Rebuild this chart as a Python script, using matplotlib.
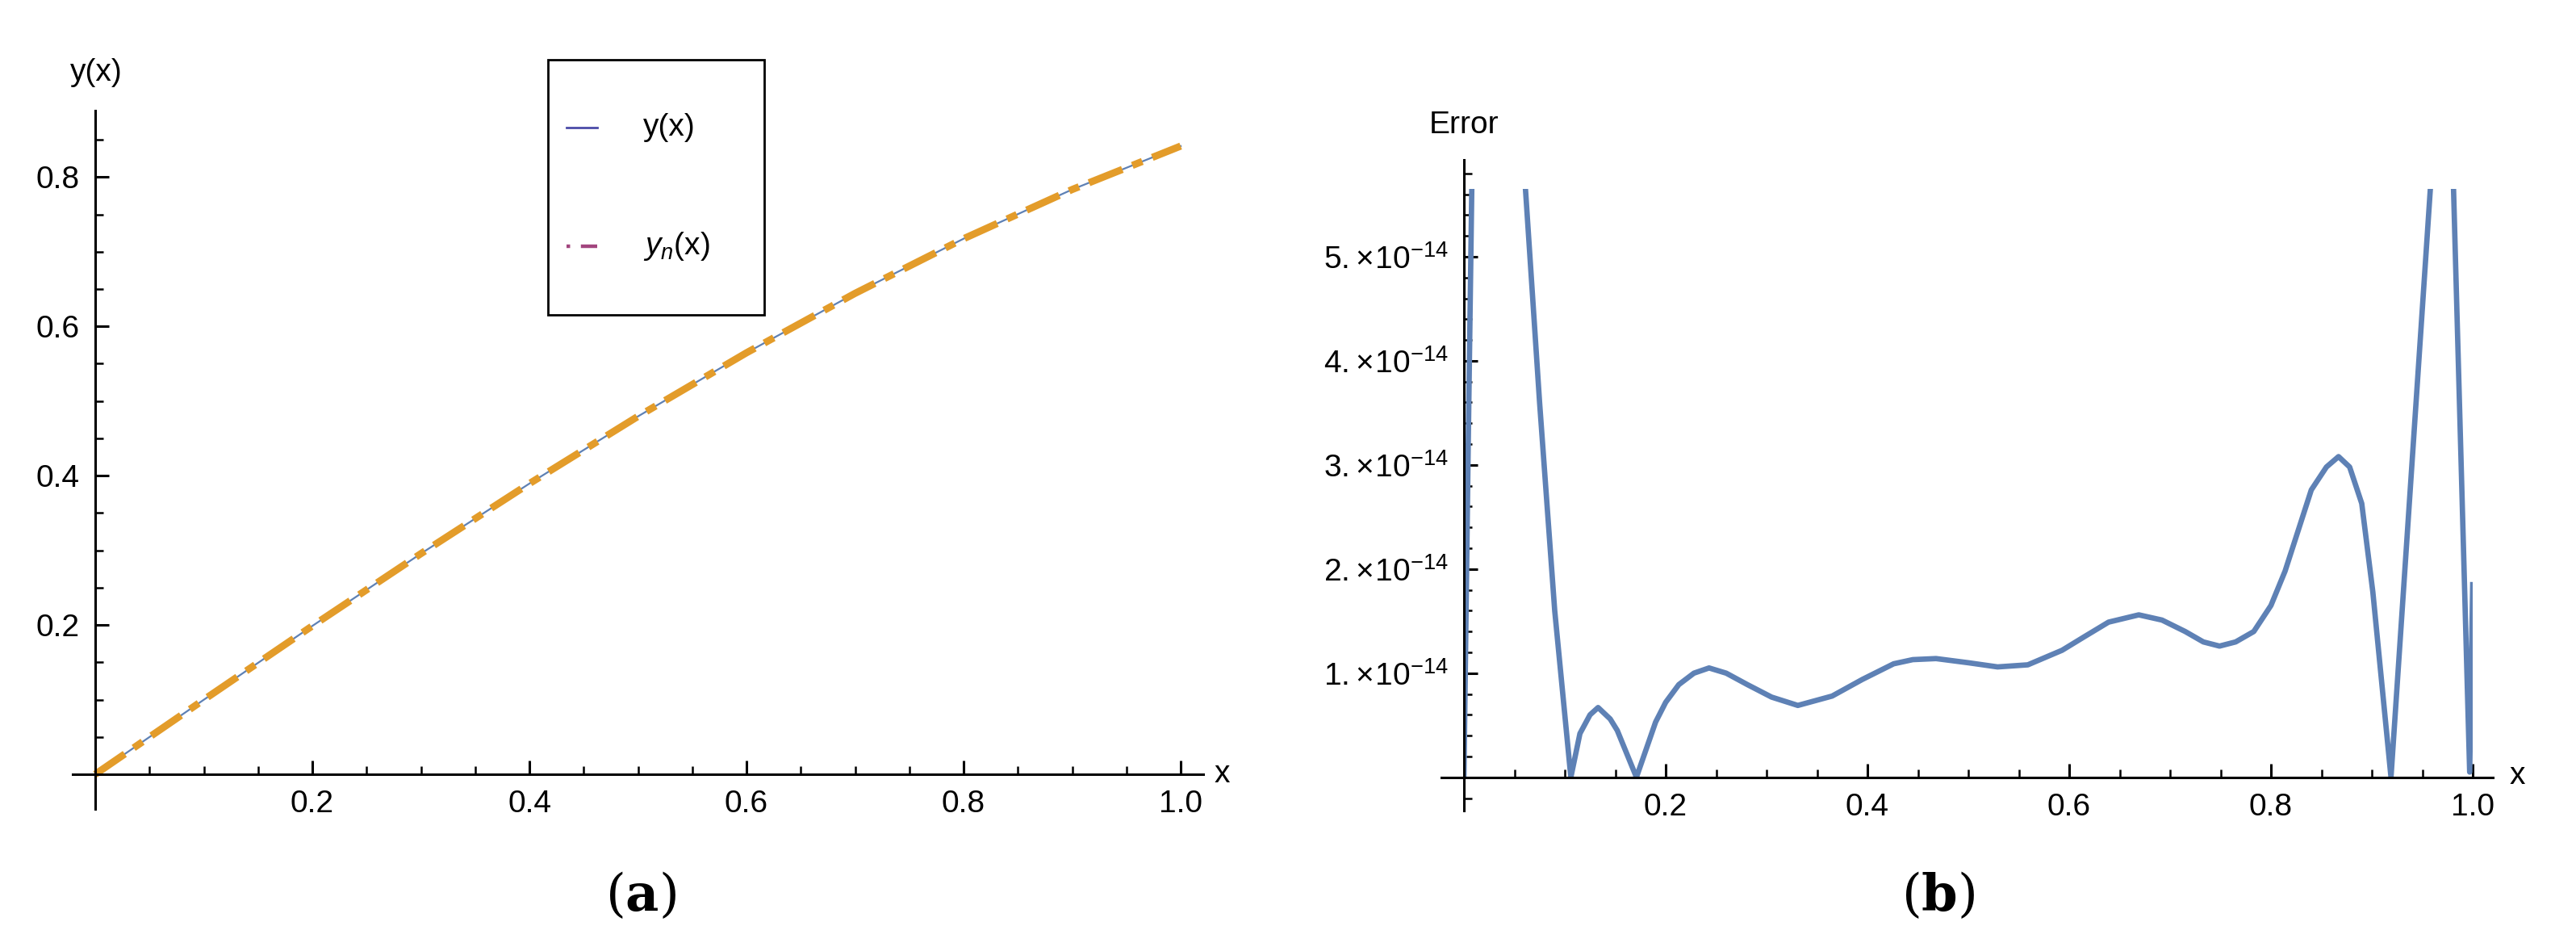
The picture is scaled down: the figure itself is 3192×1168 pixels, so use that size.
import numpy as np
import matplotlib
matplotlib.use("Agg")
import matplotlib.pyplot as plt
from matplotlib.lines import Line2D
from matplotlib.patches import Rectangle
from matplotlib.ticker import MultipleLocator

plt.rcParams['font.family'] = ['Liberation Sans', 'DejaVu Sans']
plt.rcParams['mathtext.fontset'] = 'custom'
plt.rcParams['mathtext.rm'] = 'Liberation Sans'
plt.rcParams['mathtext.it'] = 'Liberation Sans:italic'

# panel (a): exact and approximate solution
x_sol = [0.0, 0.1, 0.2, 0.3, 0.4, 0.5, 0.6, 0.7, 0.8, 0.9, 1.0]
y_exact = [0.0, 0.0998, 0.1987, 0.2955, 0.3894, 0.4794, 0.5646, 0.6442, 0.7174, 0.7833, 0.8415]
y_approx = y_exact

# panel (b): absolute error (units of 1e-14)
x_err = [0.0, 0.004, 0.009, 0.055, 0.061, 0.075, 0.09, 0.106, 0.115, 0.125, 0.133,
         0.145, 0.152, 0.171, 0.19, 0.2, 0.213, 0.228, 0.243, 0.26, 0.281, 0.305, 0.331,
         0.365, 0.395, 0.426, 0.445, 0.468, 0.5, 0.529, 0.559, 0.593, 0.615, 0.639,
         0.669, 0.692, 0.715, 0.733, 0.749, 0.765, 0.783, 0.8, 0.814, 0.828, 0.840,
         0.855, 0.867, 0.878, 0.890, 0.901, 0.919, 0.958, 0.962, 0.979, 0.981, 0.997, 1.0]
err = [0.0, 3.0, 6.5, 7.5, 5.65, 3.6, 1.6, 0.0, 0.42, 0.6, 0.67,
       0.56, 0.45, 0.0, 0.53, 0.72, 0.89, 1.0, 1.05, 1.0, 0.89, 0.77, 0.69,
       0.78, 0.94, 1.09, 1.13, 1.14, 1.1, 1.06, 1.08, 1.22, 1.35, 1.49,
       1.56, 1.51, 1.40, 1.3, 1.26, 1.3, 1.40, 1.65, 1.98, 2.4, 2.76,
       2.98, 3.08, 2.98, 2.63, 1.78, 0.0, 5.65, 6.5, 6.5, 5.65, 0.05, 1.85]

W, H = 3192, 1168
fig = plt.figure(figsize=(W / 200, H / 200), dpi=200)


def style_axes(ax):
    for s in ['top', 'right']:
        ax.spines[s].set_visible(False)
    ax.spines['bottom'].set_position(('data', 0))
    ax.spines['left'].set_position(('data', 0))
    for s in ['bottom', 'left']:
        ax.spines[s].set_linewidth(1.1)
    ax.tick_params(which='major', direction='in', length=6, width=1.1, labelsize=14, pad=7)
    ax.tick_params(which='minor', direction='in', length=3.6, width=0.9)


# ---- (a)
ax1 = fig.add_axes([90 / W, 1 - 1002 / H, (1491 - 90) / W, (1002 - 137) / H])
ax1.plot(x_sol, y_exact, color='#5E81B5', lw=0.8)
ax1.plot(x_sol, y_approx, color='#E39C2A', lw=3.2, ls=(0, (5, 1.5, 1.5, 1.5)))
ax1.set_xlim(-28 / 1345, 1.0208)
ax1.set_ylim(-0.0465, 0.889)
style_axes(ax1)
ax1.set_xticks([0.2, 0.4, 0.6, 0.8, 1.0])
ax1.set_yticks([0.2, 0.4, 0.6, 0.8])
ax1.xaxis.set_minor_locator(MultipleLocator(0.05))
ax1.yaxis.set_minor_locator(MultipleLocator(0.05))
ax1.set_xticklabels(['0.2', '0.4', '0.6', '0.8', '1.0'])
ax1.set_yticklabels(['0.2', '0.4', '0.6', '0.8'])
fig.text(87 / W, 1 - 90 / H, 'y(x)', fontsize=14, va='center')
fig.text(1505 / W, 1 - 959 / H, 'x', fontsize=14, va='center')

# legend box drawn by hand
fig.patches.append(Rectangle((679 / W, 1 - 390 / H), (947 - 679) / W, (390 - 74) / H,
                             transform=fig.transFigure, fill=False, ec='black', lw=1.0))
fig.lines.append(Line2D([702 / W, 740 / W], [1 - 158 / H] * 2, transform=fig.transFigure,
                        color='#4B4BA8', lw=1.0))
fig.lines.append(Line2D([702 / W, 740 / W], [1 - 305 / H] * 2, transform=fig.transFigure,
                        color='#A2457E', lw=1.6, ls=(0, (1, 3, 5, 3))))
fig.text(797 / W, 1 - 158 / H, 'y(x)', fontsize=14, va='center')
fig.text(797 / W, 1 - 305 / H, r'$\mathit{y_n}$(x)', fontsize=14, va='center')

# ---- (b)
ax2 = fig.add_axes([1786 / W, 1 - 1004 / H, (3089 - 1786) / W, (1004 - 198) / H])
clip = Rectangle((0, 0), 1.0, 5.65e-14, transform=ax2.transData, visible=False)
ax2.add_patch(clip)
ln, = ax2.plot(x_err, np.array(err) * 1e-14, color='#5E81B5', lw=2.4)
ln.set_clip_path(clip)
ax2.set_xlim(-28 / 1250, 1.02)
ax2.set_ylim(-0.32e-14, 5.93e-14)
style_axes(ax2)
ax2.set_xticks([0.2, 0.4, 0.6, 0.8, 1.0])
ax2.set_xticklabels(['0.2', '0.4', '0.6', '0.8', '1.0'])
ax2.xaxis.set_minor_locator(MultipleLocator(0.05))
ax2.set_yticks([k * 1e-14 for k in range(1, 6)])
ax2.set_yticklabels([r'$%d.\!\times\!10^{-14}$' % k for k in range(1, 6)])
ax2.yaxis.set_minor_locator(MultipleLocator(0.2e-14))
fig.text(1771 / W, 1 - 155 / H, 'Error', fontsize=14, va='center')
fig.text(3110 / W, 1 - 961 / H, 'x', fontsize=14, va='center')

fig.text(794 / W, 1 - 1110 / H, r'($\mathbf{a}$)', fontsize=23, family='DejaVu Serif',
         ha='center', va='center', math_fontfamily='dejavuserif')
fig.text(2402 / W, 1 - 1110 / H, r'($\mathbf{b}$)', fontsize=23, family='DejaVu Serif',
         ha='center', va='center', math_fontfamily='dejavuserif')

fig.savefig('out.png', dpi=200)
